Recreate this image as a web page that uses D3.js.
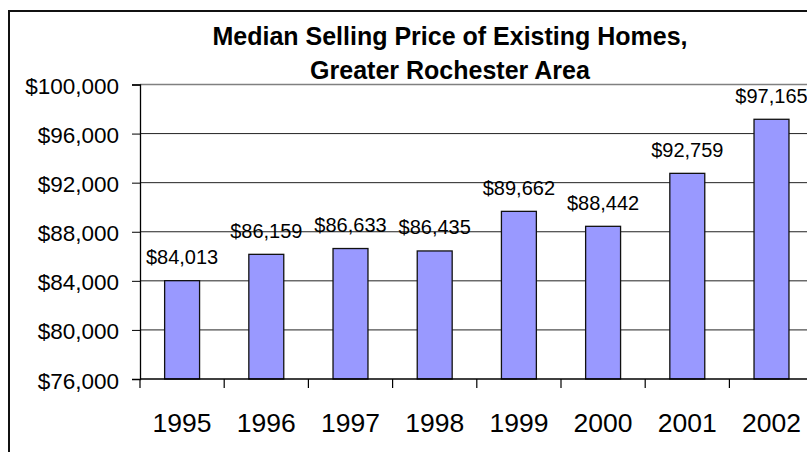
<!DOCTYPE html>
<html><head><meta charset="utf-8">
<script src="https://cdn.jsdelivr.net/npm/d3@7"></script>
<style>
html,body{margin:0;padding:0;background:#fff;overflow:hidden}
text{font-family:"Liberation Sans",Arial,sans-serif;fill:#000}
</style></head>
<body>
<svg id="chart" width="807" height="452"></svg>
<script>
const years = ["1995","1996","1997","1998","1999","2000","2001","2002"];
const prices = [84013, 86159, 86633, 86435, 89662, 88442, 92759, 97165];
const yTicks = [76000, 80000, 84000, 88000, 92000, 96000, 100000];
const titleLines = ["Median Selling Price of Existing Homes,", "Greater Rochester Area"];

(function () {
const svg = d3.select("#chart");
const pLeft = 140, pRight = 140 + 8 * 84.2, pTop = 84.5, pBottom = 379;

// outer frame (extends past right/bottom edge)
svg.append("rect").attr("x", 9).attr("y", 11).attr("width", 900).attr("height", 500)
  .attr("fill", "#fff").attr("stroke", "#111").attr("stroke-width", 2);

const x = d3.scaleBand().domain(years).range([pLeft, pRight]).padding(0);
const y = d3.scaleLinear().domain([76000, 100000]).range([pBottom, pTop]);
const fmt = d3.format("$,");

// gridlines
svg.append("g").selectAll("line").data(yTicks.filter(v => v > 76000 && v < 100000)).join("line")
  .attr("x1", pLeft).attr("x2", 807).attr("y1", d => y(d)).attr("y2", d => y(d))
  .attr("stroke", "#222").attr("stroke-width", 1);
svg.append("line").attr("x1", pLeft).attr("x2", 807).attr("y1", y(100000)).attr("y2", y(100000))
  .attr("stroke", "#808080").attr("stroke-width", 1.5);

// y axis
const yAxis = svg.append("g").attr("transform", `translate(${pLeft},0)`)
  .call(d3.axisLeft(y).tickValues(yTicks).tickFormat(fmt).tickSize(8).tickPadding(13));
yAxis.select(".domain").attr("stroke", "#000").attr("stroke-width", 1.3);
yAxis.selectAll(".tick line").attr("stroke", "#000");
yAxis.selectAll(".tick text").attr("font-size", "22.5px").attr("dy", "0.4em")
  .attr("font-family", "Liberation Sans, Arial, sans-serif").attr("fill", "#000");

// bars
const bw = x.bandwidth() * 0.415;
svg.append("g").selectAll("rect").data(years).join("rect")
  .attr("x", (d) => x(d) + x.bandwidth() / 2 - bw / 2)
  .attr("width", bw)
  .attr("y", (d, i) => y(prices[i]))
  .attr("height", (d, i) => pBottom - y(prices[i]))
  .attr("fill", "#9999FF").attr("stroke", "#111").attr("stroke-width", 1.3);

// x axis
svg.append("line").attr("x1", pLeft).attr("x2", 807).attr("y1", pBottom).attr("y2", pBottom)
  .attr("stroke", "#000").attr("stroke-width", 1.3);
const bounds = years.map(d => x(d));
svg.append("g").selectAll("line").data(bounds).join("line")
  .attr("x1", d => d).attr("x2", d => d).attr("y1", pBottom).attr("y2", pBottom + 9)
  .attr("stroke", "#000").attr("stroke-width", 1.2);
svg.append("g").selectAll("text").data(years).join("text")
  .attr("x", d => x(d) + x.bandwidth() / 2).attr("y", 432)
  .attr("text-anchor", "middle").attr("font-size", "26.5px").text(d => d);

// value labels
svg.append("g").selectAll("text").data(years).join("text")
  .attr("x", d => x(d) + x.bandwidth() / 2)
  .attr("y", (d, i) => y(prices[i]) - 16.5)
  .attr("text-anchor", "middle").attr("font-size", "20px")
  .text((d, i) => fmt(prices[i]));

// title
svg.append("g").selectAll("text").data(titleLines).join("text")
  .attr("x", 450).attr("y", (d, i) => 45 + i * 33.5)
  .attr("text-anchor", "middle").attr("font-size", "25px").attr("font-weight", "bold")
  .text(d => d);
})();
</script>
</body></html>
